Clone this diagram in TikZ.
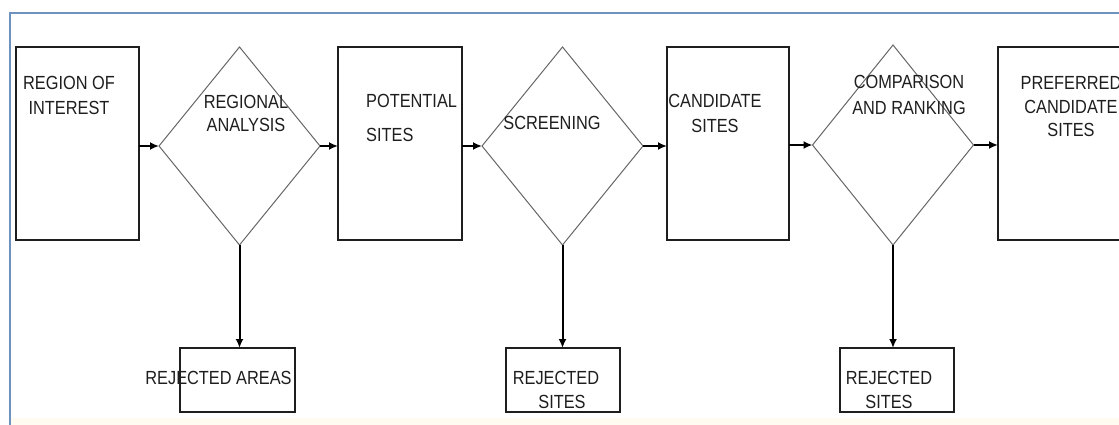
\documentclass[tikz,border=0pt]{standalone}
\usepackage{fontspec}
\setmainfont{Liberation Sans}[FakeStretch=0.86]
\usetikzlibrary{shapes.geometric,arrows.meta}
\definecolor{frameblue}{RGB}{112,146,190}
\definecolor{inkgray}{RGB}{30,30,30}
\definecolor{cream}{RGB}{255,251,240}
\begin{document}
\begin{tikzpicture}[x=1pt,y=-1pt,
    stagebox/.style={draw=inkgray,line width=1.1pt,rectangle,inner sep=0pt,outer sep=0pt,minimum width=123pt,minimum height=193pt},
    decision/.style={draw=black!60,line width=1pt,diamond,inner sep=0pt,outer sep=0pt,minimum width=161pt,minimum height=198pt},
    rejbox/.style={draw=inkgray,line width=1.1pt,rectangle,inner sep=0pt,outer sep=0pt,minimum width=115pt,minimum height=64pt},
    txt/.style={text=inkgray,inner sep=0pt,anchor=north,align=center,font=\fontsize{19}{24.5}\selectfont},
    flow/.style={line width=2pt,black,-{Latex[length=9pt,width=8pt]}}]
  \useasboundingbox (0,0) rectangle (1119,425);
  \fill[cream] (11,418) rectangle (1119,425);
  \draw[frameblue,line width=2.2pt] (10,440) -- (10,13) -- (1140,13);
  % main row
  \node[stagebox] (roi) at (77.5,143.5) {};
  \node[decision] (ra) at (239.5,146) {};
  \node[stagebox,minimum width=124pt] (ps) at (400,143.5) {};
  \node[decision] (scr) at (562.5,146) {};
  \node[stagebox,minimum width=122pt] (cs) at (728,143.5) {};
  \node[decision,minimum height=200pt] (cr) at (893,145) {};
  \node[stagebox] (pcs) at (1059.5,143.5) {};
  % rejected outputs
  \node[rejbox] (rja) at (237.5,380) {};
  \node[rejbox,minimum width=114pt] (rjs) at (563,380) {};
  \node[rejbox,minimum width=114pt] (rjc) at (897,380) {};
  % labels
  \node[txt] (roi-t) at (69,76.5) {REGION OF\\INTEREST};
  \node[txt,font=\fontsize{19}{23}\selectfont] (ra-t) at (246,95.5) {REGIONAL\\ANALYSIS};
  \node[txt,anchor=north west,align=left,font=\fontsize{19}{34}\selectfont] (ps-t) at (366,94.5) {POTENTIAL\\SITES};
  \node[txt] (scr-t) at (552,116.5) {SCREENING};
  \node[txt,font=\fontsize{19}{25}\selectfont] (cs-t) at (715,94.5) {CANDIDATE\\SITES};
  \node[txt,font=\fontsize{19}{26}\selectfont] (cr-t) at (909,75.5) {COMPARISON\\AND RANKING};
  \node[txt,font=\fontsize{19}{23.5}\selectfont] (pcs-t) at (1071,76.5) {PREFERRED\\CANDIDATE\\SITES};
  \node[txt] (rja-t) at (218.5,371.5) {REJECTED AREAS};
  \node[txt,font=\fontsize{19}{24}\selectfont] (rjs-t) at (556,371.5) {REJECTED\\\hspace{12pt}SITES};
  \node[txt,font=\fontsize{19}{24}\selectfont] (rjc-t) at (889,371.5) {REJECTED\\SITES};
  % connectors
  \draw[flow] (roi.east |- ra.west) -- (ra.west);
  \draw[flow] (ra.east) -- (ps.west |- ra.east);
  \draw[flow] (ps.east |- scr.west) -- (scr.west);
  \draw[flow] (scr.east) -- (cs.west |- scr.east);
  \draw[flow] (cs.east |- cr.west) -- (cr.west);
  \draw[flow] (cr.east) -- (pcs.west |- cr.east);
  \draw[flow] (ra.south) -- (ra.south |- rja.north);
  \draw[flow] (scr.south) -- (scr.south |- rjs.north);
  \draw[flow] (cr.south) -- (cr.south |- rjc.north);
\end{tikzpicture}
\end{document}
